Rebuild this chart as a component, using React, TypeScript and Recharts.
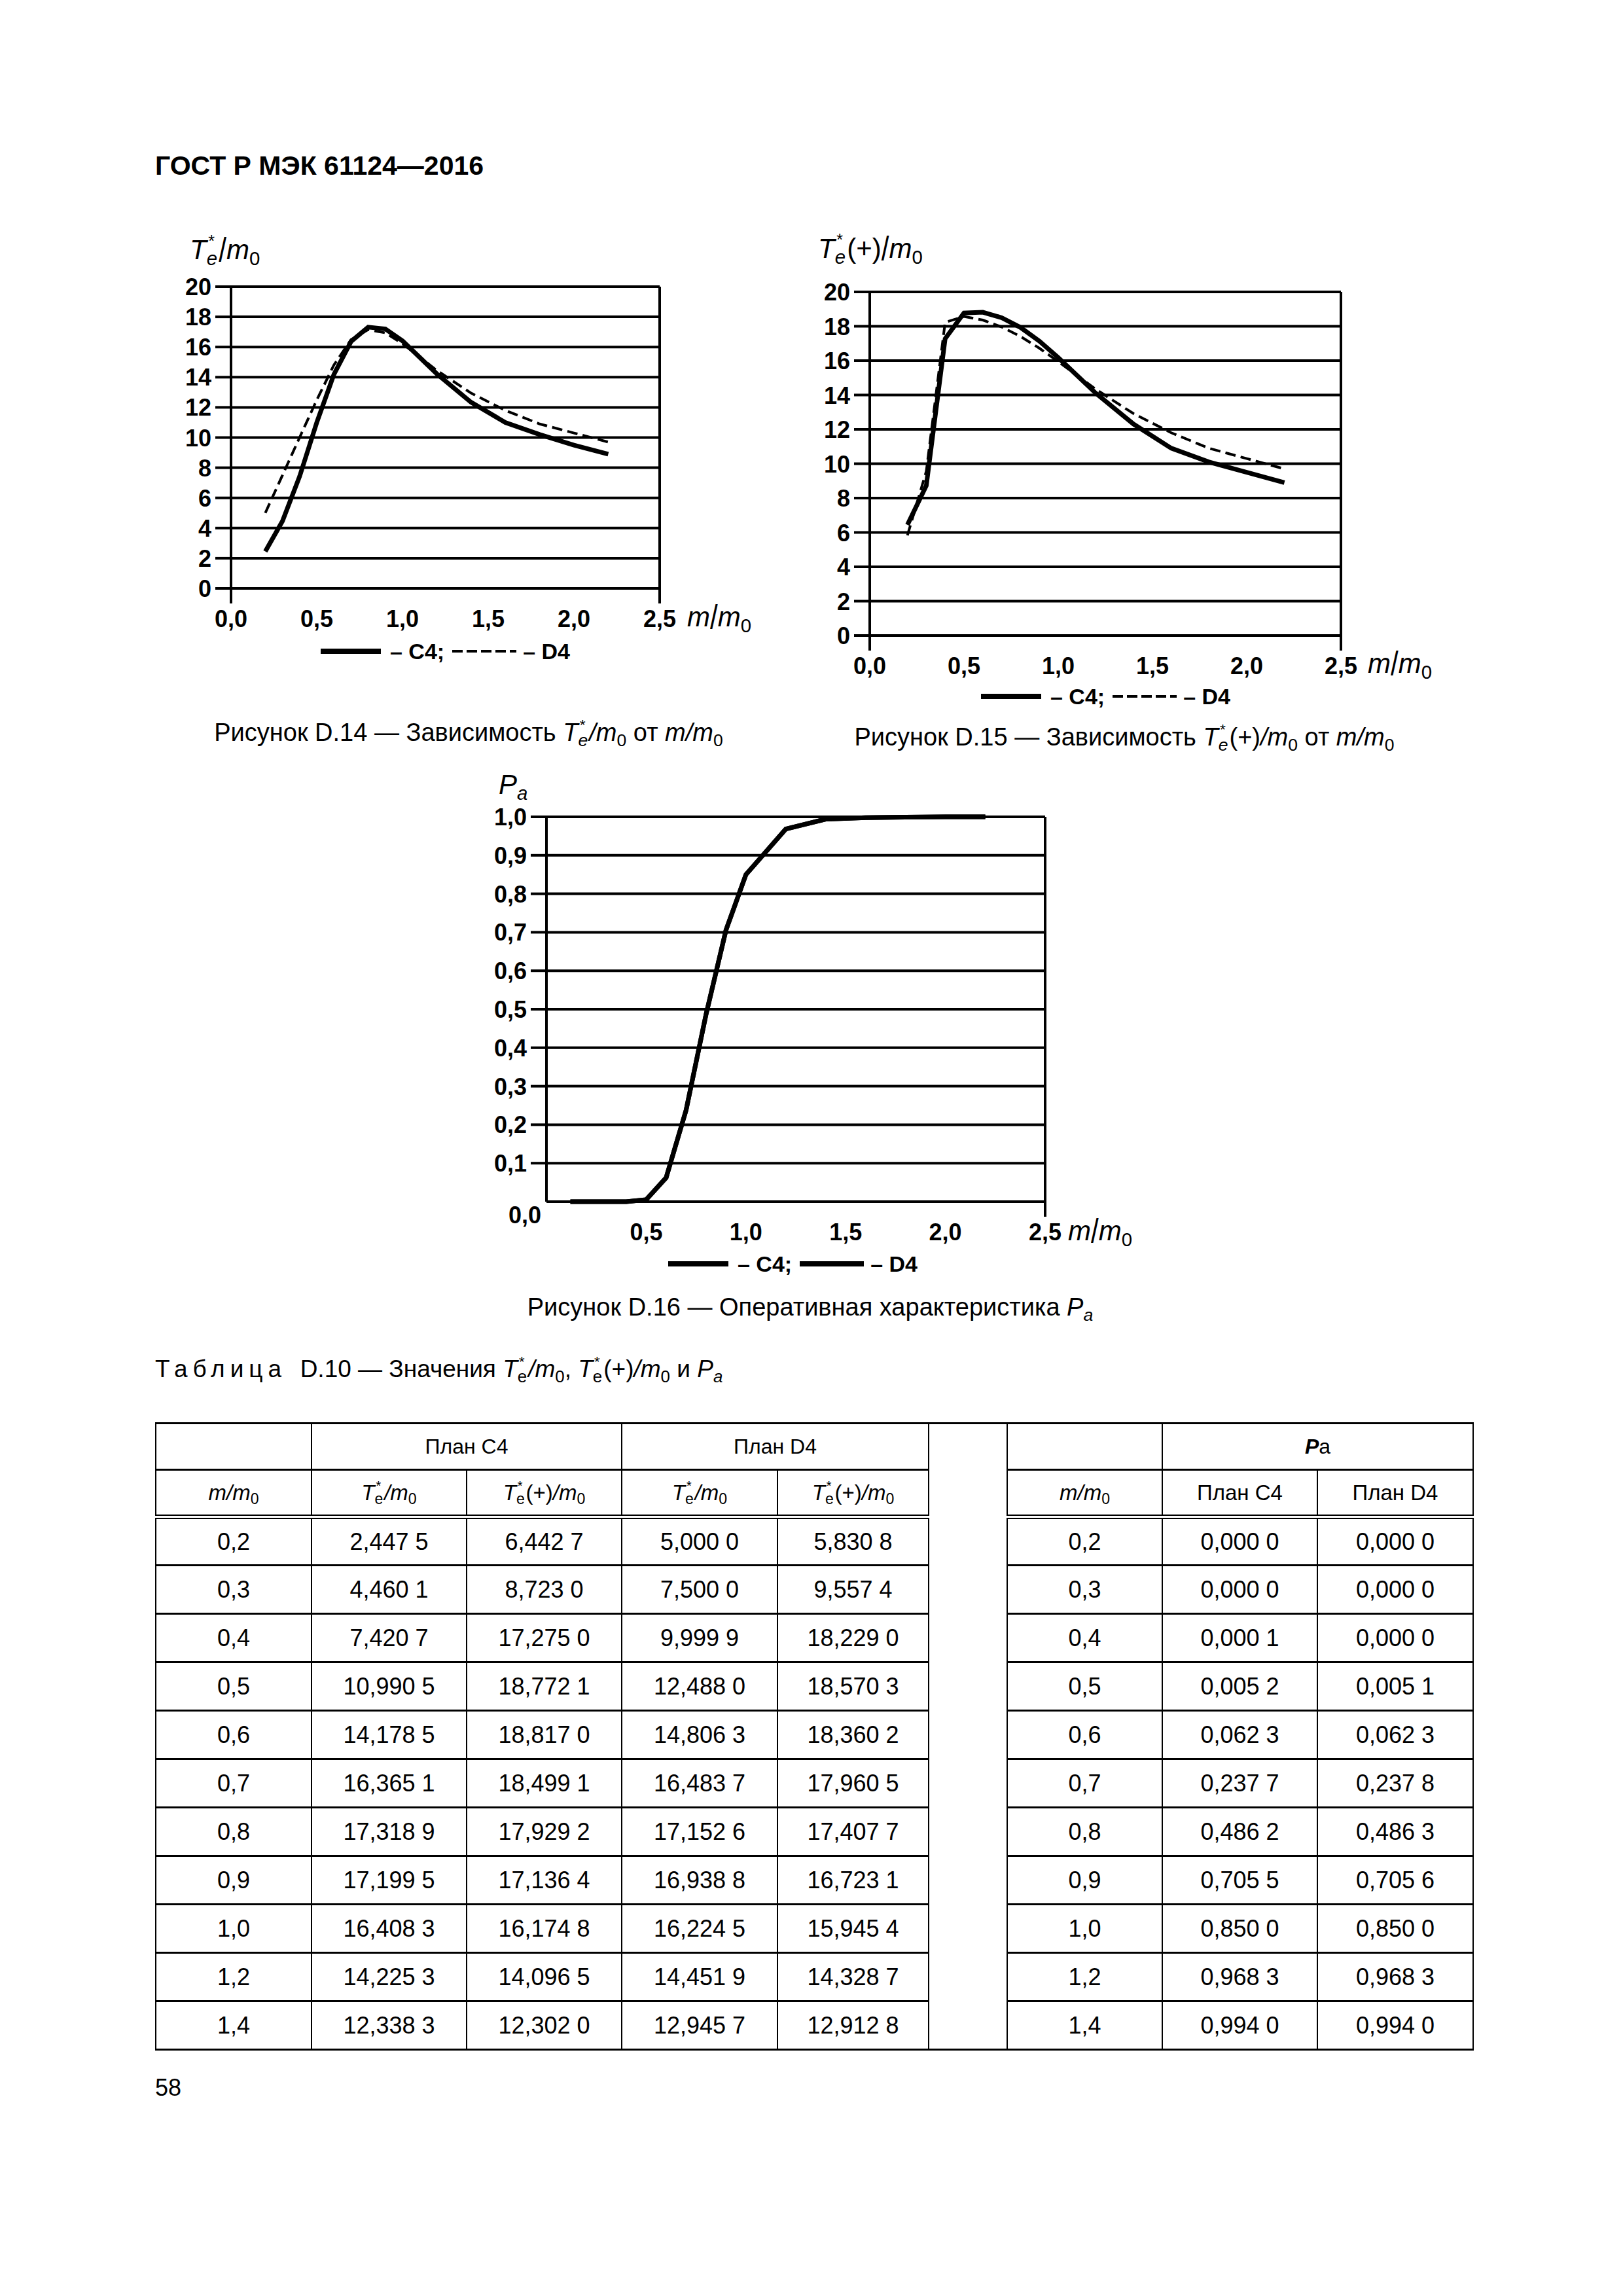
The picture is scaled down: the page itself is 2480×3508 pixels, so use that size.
import React from 'react'
import { LineChart, Line, XAxis, YAxis, CartesianGrid, ReferenceLine } from 'recharts'

const mPoints = [0.2, 0.3, 0.4, 0.5, 0.6, 0.7, 0.8, 0.9, 1.0, 1.2, 1.4, 1.6, 1.8, 2.0, 2.2]
const teC4 = [2.4475, 4.4601, 7.4207, 10.9905, 14.1785, 16.3651, 17.3189, 17.1995, 16.4083, 14.2253, 12.3383, 11.0, 10.2, 9.5, 8.9]
const teD4 = [5.0, 7.5, 9.9999, 12.488, 14.8063, 16.4837, 17.1526, 16.9388, 16.2245, 14.4519, 12.9457, 11.8, 10.9, 10.3, 9.7]
const tePlusC4 = [6.4427, 8.723, 17.275, 18.7721, 18.817, 18.4991, 17.9292, 17.1364, 16.1748, 14.0965, 12.302, 10.9, 10.1, 9.5, 8.9]
const tePlusD4 = [5.8308, 9.5574, 18.229, 18.5703, 18.3602, 17.9605, 17.4077, 16.7231, 15.9454, 14.3287, 12.9128, 11.8, 10.9, 10.3, 9.7]

// Pa curve starts a bit left of 0,2 in figure D.16
const paPoints = [0.12, 0.2, 0.3, 0.4, 0.5, 0.6, 0.7, 0.8, 0.9, 1.0, 1.2, 1.4, 1.6, 1.8, 2.0, 2.2]
const paC4 = [0, 0, 0, 0.0001, 0.0052, 0.0623, 0.2377, 0.4862, 0.7055, 0.85, 0.9683, 0.994, 0.998, 0.999, 1.0, 1.0]
const paD4 = [0, 0, 0, 0, 0.0051, 0.0623, 0.2378, 0.4863, 0.7056, 0.85, 0.9683, 0.994, 0.998, 0.999, 1.0, 1.0]

const xTicks = [0, 0.5, 1, 1.5, 2, 2.5]
const teTicks = [0, 2, 4, 6, 8, 10, 12, 14, 16, 18, 20]
const paTicks = [0, 0.1, 0.2, 0.3, 0.4, 0.5, 0.6, 0.7, 0.8, 0.9, 1.0]
const tableRowCount = 11

const FONT = "'Liberation Sans', Arial, Helvetica, sans-serif"
const fmt1 = (v: number) => v.toFixed(1).replace('.', ',')
const fmt4 = (v: number) => {
	const s = v.toFixed(4).replace('.', ',')
	return s.slice(0, -1) + ' ' + s.slice(-1)
}

const tickStyle = { fontFamily: FONT, fontWeight: 700, fontSize: 36, fill: '#000' }

const makeXTick = (extend: number[], hideZero: boolean) => (props: any) => {
	const { x, y, payload } = props
	const v = payload.value
	return (
		<g>
			{extend.includes(v) && <line x1={x} x2={x} y1={y} y2={y + 23} stroke="#000" strokeWidth={4} />}
			{!(hideZero && v === 0) && (
				<text x={x} y={y + 59} textAnchor="middle" style={tickStyle}>{fmt1(v)}</text>
			)}
		</g>
	)
}

const makeYTick = (fmt: (v: number) => string, shiftZero: boolean) => (props: any) => {
	const { x, y, payload } = props
	const v = payload.value
	if (shiftZero && v === 0) {
		return <text x={x - 8} y={y + 33} textAnchor="end" style={tickStyle}>{fmt(v)}</text>
	}
	return (
		<g>
			<line x1={x - 24} x2={x} y1={y} y2={y} stroke="#000" strokeWidth={4} />
			<text x={x - 30} y={y + 13} textAnchor="end" style={tickStyle}>{fmt(v)}</text>
		</g>
	)
}

const Sub = ({ children, it = false }: { children: React.ReactNode; it?: boolean }) => (
	<span style={{ fontSize: '0.7em', position: 'relative', top: '0.3em', fontStyle: it ? 'italic' : 'normal' }}>{children}</span>
)

const TeStar = ({ eIt = true }: { eIt?: boolean }) => (
	<>
		<i>T</i>
		<Sub it={eIt}>e</Sub>
		<span style={{ fontSize: '0.6em', position: 'relative', top: '-0.75em', marginLeft: '-0.55em', marginRight: '0.25em', fontStyle: 'normal' }}>*</span>
	</>
)

const Slash = () => <span style={{ display: 'inline-block', transform: 'scaleY(1.25)', fontStyle: 'normal' }}>/</span>

const MOverM0 = ({ tall = true }: { tall?: boolean }) => (
	<>
		<i>m</i>{tall ? <Slash /> : <i>/</i>}<i>m</i><Sub>0</Sub>
	</>
)

// text placed by its baseline
const Txt = ({ x, base, size, anchor = 'start', weight = 400, italic = false, spacing = 0, children }: any) => (
	<div
		style={{
			position: 'absolute',
			left: x,
			top: base - 0.86 * size,
			fontSize: size,
			lineHeight: `${size}px`,
			fontWeight: weight,
			fontStyle: italic ? 'italic' : 'normal',
			letterSpacing: spacing,
			whiteSpace: 'nowrap',
			transform: anchor === 'middle' ? 'translateX(-50%)' : undefined,
		}}
	>
		{children}
	</div>
)

const LegendRow = ({ left, cy, dashed }: { left: number; cy: number; dashed: boolean }) => (
	<div
		style={{
			position: 'absolute', left, top: cy - 20, height: 40, display: 'flex', alignItems: 'center',
			fontWeight: 700, fontSize: 34, whiteSpace: 'nowrap',
		}}
	>
		<svg width={92} height={12}><line x1={0} x2={92} y1={6} y2={6} stroke="#000" strokeWidth={8} /></svg>
		<span style={{ marginLeft: 14 }}>– C4;</span>
		<svg width={98} height={12} style={{ marginLeft: 12 }}>
			<line x1={0} x2={98} y1={6} y2={6} stroke="#000" strokeWidth={dashed ? 4 : 8} strokeDasharray={dashed ? '16 6' : undefined} />
		</svg>
		<span style={{ marginLeft: 10 }}>– D4</span>
	</div>
)

interface PlotProps {
	left: number
	top: number
	width: number
	height: number
	margin: { top: number; right: number; bottom: number; left: number }
	yWidth: number
	data: { m: number; c4: number; d4: number }[]
	yDomain: [number, number]
	yTicks: number[]
	yFmt: (v: number) => string
	dashedD4: boolean
	extend: number[]
	hideZeroX: boolean
	shiftZeroY: boolean
}

function Plot(p: PlotProps) {
	return (
		<div style={{ position: 'absolute', left: p.left, top: p.top }}>
			<LineChart width={p.width} height={p.height} data={p.data} margin={p.margin}>
				<CartesianGrid horizontal vertical={false} stroke="#000" strokeWidth={4} />
				<XAxis
					dataKey="m"
					type="number"
					domain={[0, 2.5]}
					ticks={xTicks}
					interval={0}
					height={70}
					tickSize={0}
					tickMargin={0}
					tickLine={false}
					axisLine={{ stroke: '#000', strokeWidth: 4 }}
					tick={makeXTick(p.extend, p.hideZeroX)}
				/>
				<YAxis
					type="number"
					domain={p.yDomain}
					ticks={p.yTicks}
					interval={0}
					width={p.yWidth}
					tickSize={0}
					tickMargin={0}
					tickLine={false}
					axisLine={{ stroke: '#000', strokeWidth: 4 }}
					tick={makeYTick(p.yFmt, p.shiftZeroY)}
				/>
				<ReferenceLine x={2.5} stroke="#000" strokeWidth={4} />
				<Line
					type="linear"
					dataKey="d4"
					stroke="#000"
					strokeWidth={p.dashedD4 ? 4 : 7}
					strokeDasharray={p.dashedD4 ? '16 8' : undefined}
					dot={false}
					activeDot={false}
					isAnimationActive={false}
				/>
				<Line type="linear" dataKey="c4" stroke="#000" strokeWidth={7} dot={false} activeDot={false} isAnimationActive={false} />
			</LineChart>
		</div>
	)
}

const cell: React.CSSProperties = {
	borderLeft: '2px solid #000',
	borderRight: '2px solid #000',
	borderTop: '3px solid #000',
	borderBottom: '3px solid #000',
	textAlign: 'center',
	verticalAlign: 'middle',
	padding: 0,
}
const head2: React.CSSProperties = { ...cell, borderBottom: '7px double #000' }

function ValuesTable() {
	const rows = mPoints.slice(0, tableRowCount).map((m, i) => ({
		m,
		c4: teC4[i],
		c4p: tePlusC4[i],
		d4: teD4[i],
		d4p: tePlusD4[i],
		pc4: paC4[i + 1],
		pd4: paD4[i + 1],
	}))
	const colW = [238, 237, 237, 238, 231, 120, 237, 237, 238]
	return (
		<table
			style={{
				position: 'absolute', left: 237, top: 2173, width: 2013, borderCollapse: 'collapse',
				tableLayout: 'fixed', fontSize: 36,
			}}
		>
			<colgroup>
				{colW.map((w, i) => <col key={i} style={{ width: w }} />)}
			</colgroup>
			<tbody>
				<tr style={{ height: 71, fontSize: 32 }}>
					<td style={cell}></td>
					<td style={cell} colSpan={2}>План C4</td>
					<td style={cell} colSpan={2}>План D4</td>
					<td style={cell} rowSpan={tableRowCount + 2}></td>
					<td style={cell}></td>
					<td style={cell} colSpan={2}><b><i>P</i></b>a</td>
				</tr>
				<tr style={{ height: 72, fontSize: 33 }}>
					<td style={head2}><MOverM0 tall={false} /></td>
					<td style={head2}><TeStar eIt={false} /><i>/m</i><Sub>0</Sub></td>
					<td style={head2}><TeStar eIt={false} />(+)<i>/m</i><Sub>0</Sub></td>
					<td style={head2}><TeStar eIt={false} /><i>/m</i><Sub>0</Sub></td>
					<td style={head2}><TeStar eIt={false} />(+)<i>/m</i><Sub>0</Sub></td>
					<td style={head2}><MOverM0 tall={false} /></td>
					<td style={head2}>План C4</td>
					<td style={head2}>План D4</td>
				</tr>
				{rows.map(r => (
					<tr key={r.m} style={{ height: 74 }}>
						<td style={cell}>{fmt1(r.m)}</td>
						<td style={cell}>{fmt4(r.c4)}</td>
						<td style={cell}>{fmt4(r.c4p)}</td>
						<td style={cell}>{fmt4(r.d4)}</td>
						<td style={cell}>{fmt4(r.d4p)}</td>
						<td style={cell}>{fmt1(r.m)}</td>
						<td style={cell}>{fmt4(r.pc4)}</td>
						<td style={cell}>{fmt4(r.pd4)}</td>
					</tr>
				))}
			</tbody>
		</table>
	)
}

export default function App() {
	const teData = mPoints.map((m, i) => ({ m, c4: teC4[i], d4: teD4[i] }))
	const tePlusData = mPoints.map((m, i) => ({ m, c4: tePlusC4[i], d4: tePlusD4[i] }))
	const paData = paPoints.map((m, i) => ({ m, c4: paC4[i], d4: paD4[i] }))

	return (
		<div style={{ position: 'relative', width: 2480, height: 3508, background: '#fff', fontFamily: FONT, color: '#000' }}>
			<style>{'body{margin:0}'}</style>

			<Txt x={237} base={268} size={41} weight={700}>ГОСТ Р МЭК 61124—2016</Txt>

			{/* Figure D.14 */}
			<Txt x={290} base={397} size={42}><TeStar /><Slash /><i>m</i><Sub>0</Sub></Txt>
			<Plot
				left={240} top={400} width={960} height={600}
				margin={{ top: 38, right: 192, bottom: 31, left: 0 }} yWidth={113}
				data={teData} yDomain={[0, 20]} yTicks={teTicks} yFmt={v => String(v)}
				dashedD4 extend={[0, 2.5]} hideZeroX={false} shiftZeroY={false}
			/>
			<Txt x={1050} base={958} size={42}><MOverM0 /></Txt>
			<LegendRow left={490} cy={995} dashed />
			<Txt x={716} base={1133} size={38} anchor="middle">
				Рисунок D.14 — Зависимость <TeStar /><i>/m</i><Sub>0</Sub> от <i>m/m</i><Sub>0</Sub>
			</Txt>

			{/* Figure D.15 */}
			<Txt x={1250} base={395} size={42}><TeStar />(+)<Slash /><i>m</i><Sub>0</Sub></Txt>
			<Plot
				left={1220} top={400} width={960} height={660}
				margin={{ top: 46, right: 131, bottom: 19, left: 0 }} yWidth={109}
				data={tePlusData} yDomain={[0, 20]} yTicks={teTicks} yFmt={v => String(v)}
				dashedD4 extend={[0, 2.5]} hideZeroX={false} shiftZeroY={false}
			/>
			<Txt x={2090} base={1029} size={42}><MOverM0 /></Txt>
			<LegendRow left={1499} cy={1064} dashed />
			<Txt x={1718} base={1140} size={38} anchor="middle">
				Рисунок D.15 — Зависимость <TeStar />(+)<i>/m</i><Sub>0</Sub> от <i>m/m</i><Sub>0</Sub>
			</Txt>

			{/* Figure D.16 */}
			<Txt x={762} base={1214} size={42}><i>P</i><Sub it>a</Sub></Txt>
			<Plot
				left={720} top={1200} width={960} height={720}
				margin={{ top: 48, right: 83, bottom: 14, left: 0 }} yWidth={115}
				data={paData} yDomain={[0, 1]} yTicks={paTicks} yFmt={fmt1}
				dashedD4={false} extend={[2.5]} hideZeroX shiftZeroY
			/>
			<Txt x={1632} base={1896} size={42}><MOverM0 /></Txt>
			<LegendRow left={1021} cy={1931} dashed={false} />
			<Txt x={1238} base={2011} size={38} anchor="middle">
				Рисунок D.16 — Оперативная характеристика <i>P</i><Sub it>a</Sub>
			</Txt>

			{/* Table D.10 */}
			<Txt x={237} base={2105} size={37}>
				<span style={{ letterSpacing: 8 }}>Таблица</span>&nbsp; D.10 — Значения <TeStar eIt={false} /><i>/m</i><Sub>0</Sub>, <TeStar eIt={false} />(+)<i>/m</i><Sub>0</Sub> и <i>P</i><Sub it>a</Sub>
			</Txt>
			<ValuesTable />

			<Txt x={237} base={3203} size={36}>58</Txt>
		</div>
	)
}
